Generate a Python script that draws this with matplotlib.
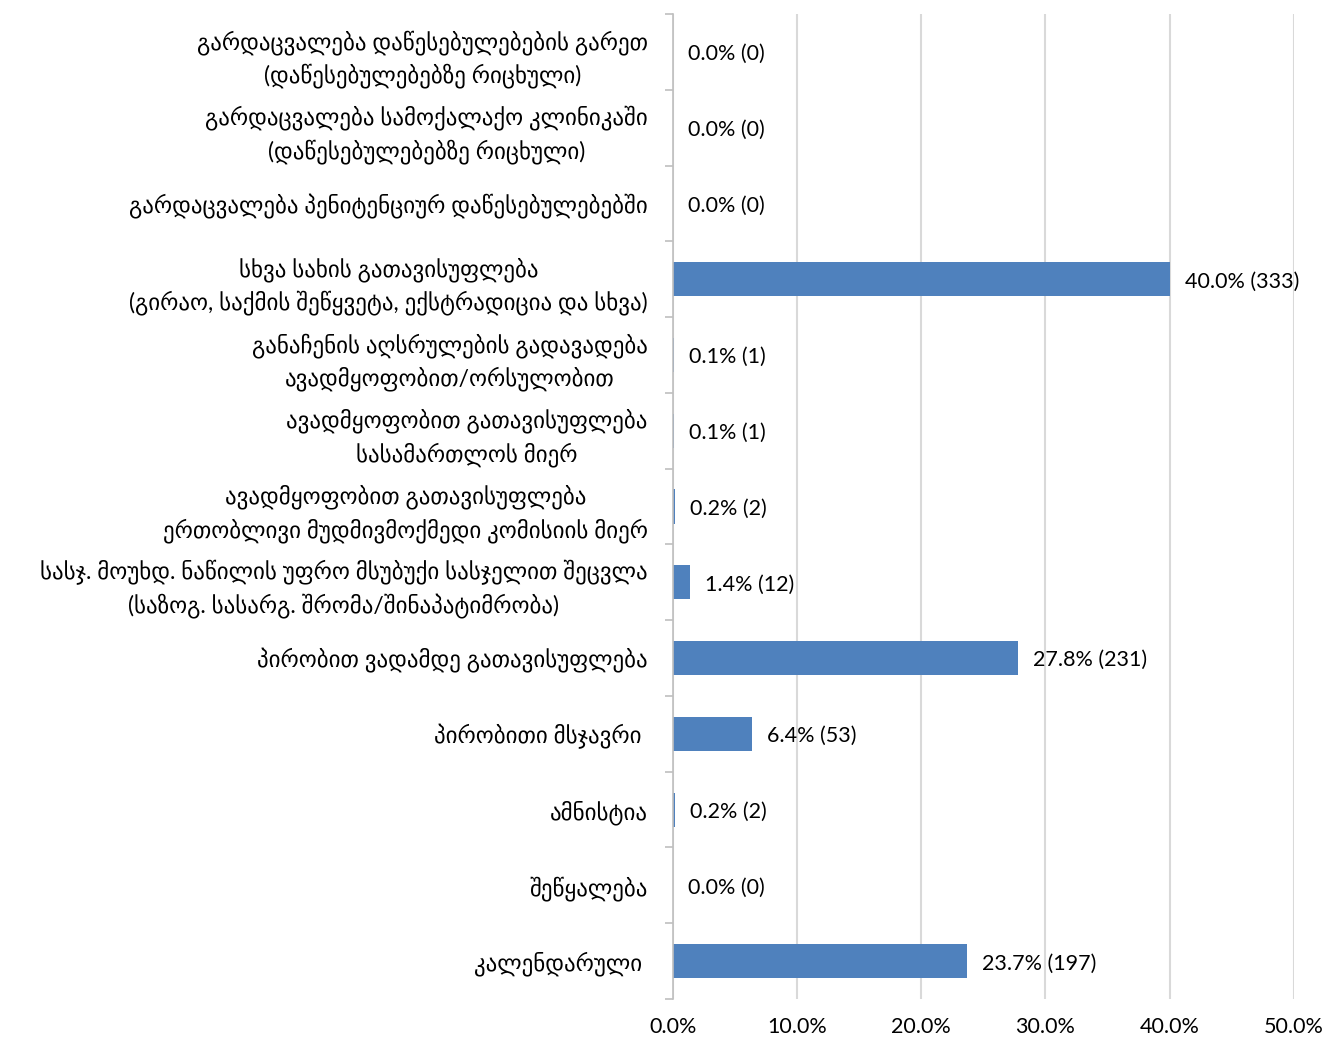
import matplotlib.pyplot as plt
import numpy as np

plt.rcParams['font.family'] = ['Lato', 'DejaVu Sans']

categories = [
    "გარდაცვალება დაწესებულებების გარეთ\n(დაწესებულებებზე რიცხული)",
    "გარდაცვალება სამოქალაქო კლინიკაში\n(დაწესებულებებზე რიცხული)",
    "გარდაცვალება პენიტენციურ დაწესებულებებში",
    "სხვა სახის გათავისუფლება\n(გირაო, საქმის შეწყვეტა, ექსტრადიცია და სხვა)",
    "განაჩენის აღსრულების გადავადება\nავადმყოფობით/ორსულობით",
    "ავადმყოფობით გათავისუფლება\nსასამართლოს მიერ",
    "ავადმყოფობით გათავისუფლება\nერთობლივი მუდმივმოქმედი კომისიის მიერ",
    "სასჯ. მოუხდ. ნაწილის უფრო მსუბუქი სასჯელით შეცვლა\n(საზოგ. სასარგ. შრომა/შინაპატიმრობა)",
    "პირობით ვადამდე გათავისუფლება",
    "პირობითი მსჯავრი ",
    "ამნისტია",
    "შეწყალება",
    "კალენდარული ",
]
percents = [0.0, 0.0, 0.0, 40.0, 0.1, 0.1, 0.2, 1.4, 27.8, 6.4, 0.2, 0.0, 23.7]
counts = [0, 0, 0, 333, 1, 1, 2, 12, 231, 53, 2, 0, 197]

fig = plt.figure(figsize=(13.27, 10.39), dpi=100)
ax = fig.add_axes([0.507, 0.0385, 0.468, 0.948])

y = np.arange(len(categories))
ax.barh(y, percents, height=0.45, color='#4F81BD', zorder=3)

for yi, p, c in zip(y, percents, counts):
    ax.text(p + 1.2, yi + 0.03, f"{p:.1f}% ({c})", va='center', ha='left',
            fontsize=15.5, color='black')

ax.set_xlim(0, 50)
ax.set_ylim(len(categories) - 0.5, -0.5)
ax.set_xticks(np.arange(0, 51, 10))
ax.set_xticklabels([f"{v:.1f}%" for v in np.arange(0, 51, 10)], fontsize=15.5)
ax.set_yticks(y)
ax.set_yticklabels(categories, fontsize=16.5, multialignment='center',
                   linespacing=1.45)
ax.set_yticks(np.arange(-0.5, len(categories), 1), minor=True)
ax.tick_params(axis='y', which='major', length=0, pad=18)
ax.tick_params(axis='y', which='minor', length=6, color='#BFBFBF', width=1.2)
ax.tick_params(axis='x', length=0, pad=13)

ax.grid(axis='x', color='#D9D9D9', linewidth=1.5, zorder=0)
for s in ['top', 'right', 'bottom']:
    ax.spines[s].set_visible(False)
ax.spines['left'].set_color('#BFBFBF')
ax.spines['left'].set_linewidth(1.2)
ax.spines['left'].set_zorder(4)

plt.savefig('out.png')
